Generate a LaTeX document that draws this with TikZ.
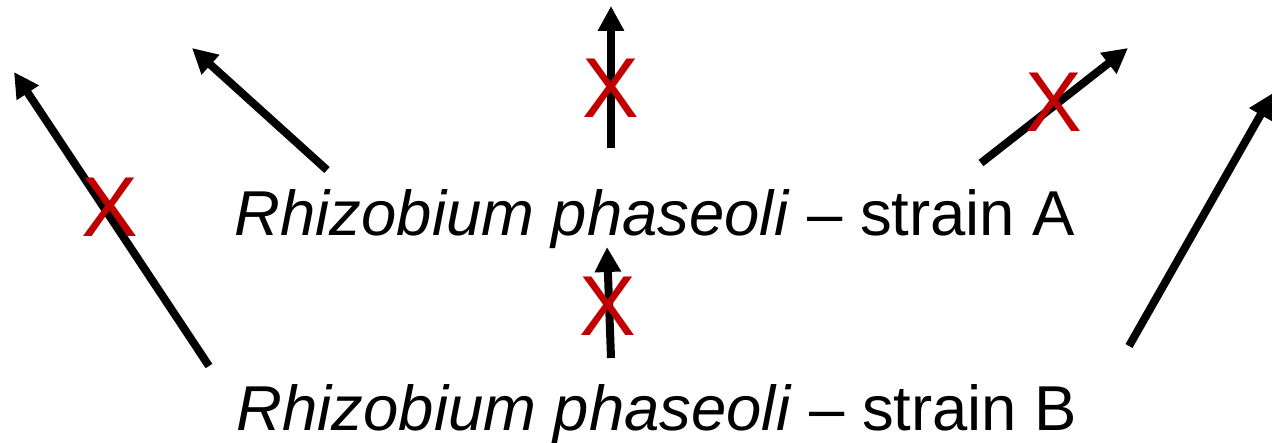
\documentclass[tikz,border=0pt]{standalone}
\usepackage{fontspec}
\setmainfont{Liberation Sans}
\usetikzlibrary{arrows.meta}
\definecolor{crossred}{RGB}{192,0,0}

\tikzset{
  strain/.style={anchor=base, inner sep=0pt, font=\fontsize{36.1}{40}\selectfont},
  link/.style={line width=0.16cm, -{Triangle[length=0.5cm,width=0.5cm]}},
  cross/.style={inner sep=0pt, text=crossred, font=\fontsize{48.4}{50}\selectfont},
}

\begin{document}
\begin{tikzpicture}[x=0.02cm,y=-0.02cm]
\useasboundingbox (0,0) rectangle (1272,443);

% the two strains
\node[strain] (strainA) at (655,235) {\textit{Rhizobium phaseoli} – strain A};
\node[strain] (strainB) at (657,430) {\textit{Rhizobium phaseoli} – strain B};

% tails and tips
\coordinate (farleftT) at (209,366);
\coordinate (farleftH) at (14,72);
\coordinate (upleftT) at (327,170);
\coordinate (upleftH) at (192,48);
\coordinate (uppermidT) at (611,148);
\coordinate (uppermidH) at (611,6);
\coordinate (uprightT) at (981,163);
\coordinate (uprightH) at (1128,48);
\coordinate (lowmidT) at (611,358);
\coordinate (lowmidH) at (607,247);
\coordinate (farrightT) at (1129,346);
\coordinate (farrightH) at (1273,93);

% arrows
\draw[link] (farleftT) -- (farleftH);
\draw[link] (upleftT) -- (upleftH);
\draw[link] (uppermidT) -- (uppermidH);
\draw[link] (uprightT) -- (uprightH);
\draw[link] (lowmidT) -- (lowmidH);
\draw[link] (farrightT) -- (farrightH);

% crossed out
\node[cross] (xfarleft) at (110,207) {X};
\node[cross] (xuppermid) at (611,88) {X};
\node[cross] (xupright) at (1054,102) {X};
\node[cross] (xlowmid) at (608,306) {X};

\end{tikzpicture}
\end{document}
